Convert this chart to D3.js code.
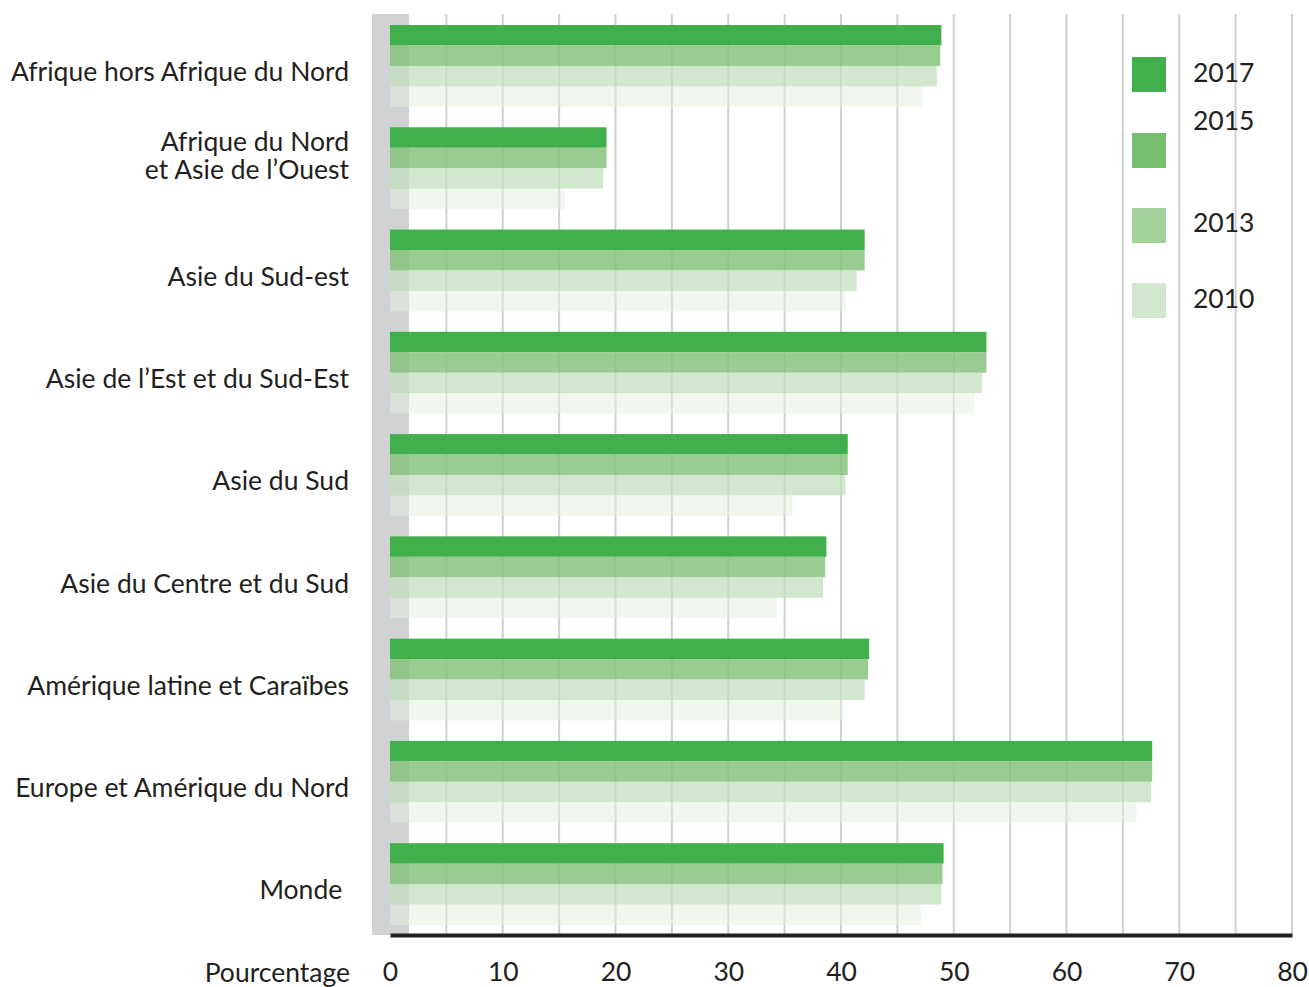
<!DOCTYPE html>
<html>
<head>
<meta charset="utf-8">
<script src="https://cdn.jsdelivr.net/npm/d3@7"></script>
<style>
  body { margin: 0; background: #fff; }
  svg { display: block; font-family: Lato, "Open Sans", sans-serif; }
</style>
</head>
<body>
<svg id="chart" width="1309" height="987"></svg>
<script>
// données
const categories = [
  "Afrique hors Afrique du Nord",
  "Afrique du Nord\net Asie de l\u2019Ouest",
  "Asie du Sud-est",
  "Asie de l\u2019Est et du Sud-Est",
  "Asie du Sud",
  "Asie du Centre et du Sud",
  "Am\u00e9rique latine et Cara\u00efbes",
  "Europe et Am\u00e9rique du Nord",
  "Monde "
];
const years = ["2017", "2015", "2013", "2010"];
const v2017 = [48.9, 19.2, 42.1, 52.9, 40.6, 38.7, 42.5, 67.6, 49.1];
const v2015 = [48.8, 19.2, 42.1, 52.9, 40.6, 38.6, 42.4, 67.6, 49.0];
const v2013 = [48.5, 18.9, 41.4, 52.5, 40.4, 38.4, 42.1, 67.5, 48.9];
const v2010 = [47.2, 15.5, 40.4, 51.8, 35.7, 34.3, 40.1, 66.2, 47.1];
const xTicks = [0, 10, 20, 30, 40, 50, 60, 70, 80];

const series = { "2017": v2017, "2015": v2015, "2013": v2013, "2010": v2010 };

const FS = 26.5;
const svg = d3.select("#chart");

const x = d3.scaleLinear().domain([0, 80]).range([390, 1292]);
const y = d3.scaleBand().domain(categories).range([25, 925]).paddingInner(0.2).paddingOuter(0);
const yy = d3.scaleBand().domain(years).range([0, y.bandwidth()]);

const barStyle = {
  "2017": { fill: "#41b04c", op: 1 },
  "2015": { fill: "#87c37c", op: 0.85 },
  "2013": { fill: "#c2dfbe", op: 0.75 },
  "2010": { fill: "#e3f0e0", op: 0.5 }
};
const legendColor = { "2017": "#41b04c", "2015": "#74be6d", "2013": "#a3d29b", "2010": "#d0e7cd" };

// bande grise à gauche
svg.append("rect")
  .attr("x", 372).attr("y", 14)
  .attr("width", 37).attr("height", 921)
  .attr("fill", "#d1d2d4");

// grille verticale tous les 5
svg.append("g")
  .selectAll("line")
  .data(d3.range(5, 85, 5))
  .join("line")
  .attr("x1", d => x(d)).attr("x2", d => x(d))
  .attr("y1", 14).attr("y2", 935)
  .attr("stroke", "#d0d0d0")
  .attr("stroke-width", 2);

// barres
const groups = svg.append("g")
  .selectAll("g")
  .data(categories)
  .join("g")
  .attr("transform", c => `translate(0, ${y(c)})`);

groups.selectAll("rect")
  .data((c, i) => years.map(yr => ({ yr, v: series[yr][i] })))
  .join("rect")
  .attr("x", x(0))
  .attr("y", d => yy(d.yr))
  .attr("width", d => x(d.v) - x(0))
  .attr("height", yy.bandwidth())
  .attr("fill", d => barStyle[d.yr].fill)
  .attr("fill-opacity", d => barStyle[d.yr].op);

// libellés des catégories
svg.append("g")
  .selectAll("text")
  .data(categories)
  .join("text")
  .attr("text-anchor", "end")
  .attr("font-size", FS)
  .attr("fill", "#231f20")
  .each(function (c) {
    const lines = c.split("\n");
    const cy = y(c) + y.bandwidth() / 2 + 6;
    const t = d3.select(this);
    lines.forEach((ln, k) => {
      t.append("tspan")
        .attr("x", 349)
        .attr("y", lines.length > 1 ? cy - 32 + k * 28 : cy)
        .attr("dy", "0.35em")
        .style("white-space", "pre")
        .text(ln);
    });
  });

// axe x
const xAxis = d3.axisBottom(x).tickValues(xTicks).tickSize(0).tickPadding(24);
const gx = svg.append("g")
  .attr("transform", "translate(0, 935)")
  .call(xAxis);
gx.select(".domain").attr("stroke", "#231f20").attr("stroke-width", 4);
gx.selectAll(".tick text")
  .attr("font-size", FS)
  .attr("font-family", "Lato, sans-serif")
  .attr("fill", "#231f20")
  .attr("y", 37)
  .attr("dy", "0.35em");

svg.append("text")
  .attr("x", 350).attr("y", 973)
  .attr("dy", "0.35em")
  .attr("text-anchor", "end")
  .attr("font-size", FS)
  .attr("fill", "#231f20")
  .text("Pourcentage");

// légende
const legendY = { "2017": 57, "2015": 133, "2013": 208, "2010": 283 };
const legendTextY = { "2017": 73, "2015": 121, "2013": 223, "2010": 299 };
const lg = svg.append("g");
lg.selectAll("rect")
  .data(years)
  .join("rect")
  .attr("x", 1132).attr("y", d => legendY[d])
  .attr("width", 34).attr("height", 35)
  .attr("fill", d => legendColor[d]);
lg.selectAll("text")
  .data(years)
  .join("text")
  .attr("x", 1193).attr("y", d => legendTextY[d])
  .attr("dy", "0.35em")
  .attr("font-size", FS)
  .attr("fill", "#231f20")
  .text(d => d);
</script>
</body>
</html>
